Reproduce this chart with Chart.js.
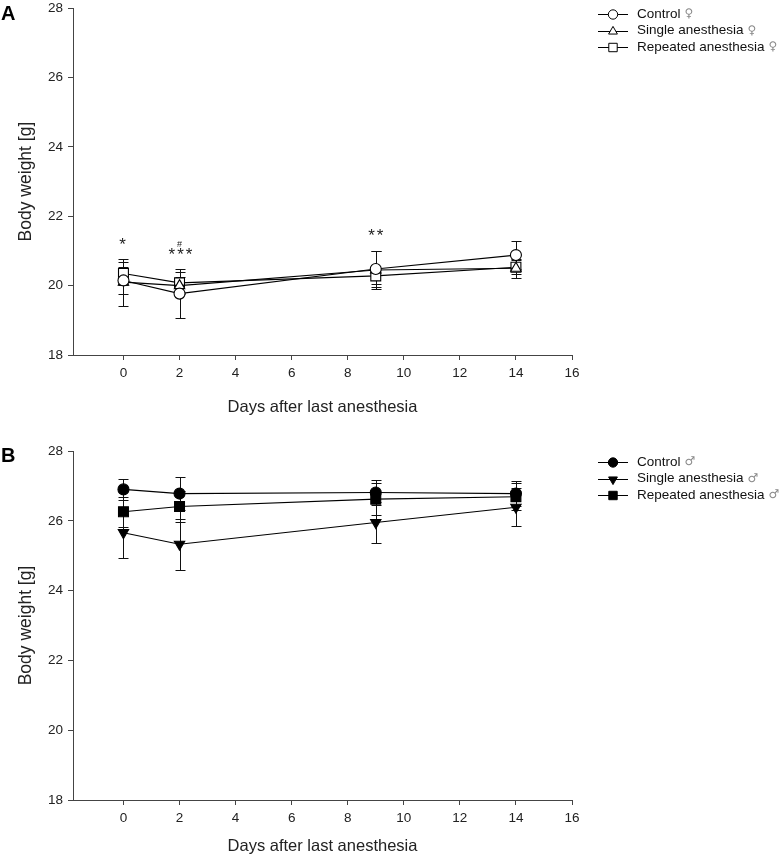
<!DOCTYPE html>
<html>
<head>
<meta charset="utf-8">
<script src="https://cdn.jsdelivr.net/npm/chart.js@4.4.1/dist/chart.umd.min.js"></script>
<style>
  body { margin: 0; background: #fff; }
  canvas { position: absolute; left: 0; }
  #chartA { top: 0; }
  #chartB { top: 429px; }
</style>
</head>
<body>
<canvas id="chartA" width="782" height="429"></canvas>
<canvas id="chartB" width="782" height="429"></canvas>
<script>
const days = [0, 2, 9, 14];
const xTicks = [0, 2, 4, 6, 8, 10, 12, 14, 16];
const yTicks = [18, 20, 22, 24, 26, 28];

// female (panel A)
const femaleControl = [20.15, 19.77, 20.48, 20.88];
const femaleControlSd = [0.40, 0.70, 0.52, 0.40];
const femaleSingle = [20.10, 20.00, 20.45, 20.50];
const femaleSingleSd = [0.68, 0.25, 0.55, 0.27];
const femaleRepeated = [20.35, 20.08, 20.28, 20.53];
const femaleRepeatedSd = [0.34, 0.30, 0.23, 0.20];

// male (panel B)
const maleControl = [26.90, 26.78, 26.81, 26.78];
const maleControlSd = [0.30, 0.48, 0.36, 0.35];
const maleSingle = [25.66, 25.33, 25.95, 26.39];
const maleSingleSd = [0.72, 0.73, 0.60, 0.54];
const maleRepeated = [26.26, 26.41, 26.62, 26.69];
const maleRepeatedSd = [0.43, 0.45, 0.45, 0.38];

// significance marks in panel A (value = centre of the glyph)
const markDays = [0, 2, 2, 9];
const markValues = [21.34, 21.21, 21.04, 21.60];
const markTexts = ["*", "#", "***", "**"];

const seriesNames = ["Control", "Single anesthesia", "Repeated anesthesia"];

const FONT = "'Liberation Sans', Arial, sans-serif";

const errorBars = {
  id: "errorBars",
  beforeDatasetsDraw(chart) {
    const { ctx, scales: { x, y } } = chart;
    ctx.save();
    ctx.strokeStyle = "#111";
    ctx.lineWidth = 1;
    chart.data.datasets.forEach(ds => {
      ds.data.forEach((p, i) => {
        const px = Math.round(x.getPixelForValue(p.x)) + 0.5;
        const top = Math.round(y.getPixelForValue(p.y + ds.sd[i])) + 0.5;
        const bot = Math.round(y.getPixelForValue(p.y - ds.sd[i])) + 0.5;
        ctx.beginPath();
        ctx.moveTo(px, top); ctx.lineTo(px, bot);
        ctx.moveTo(px - 5, top); ctx.lineTo(px + 5, top);
        ctx.moveTo(px - 5, bot); ctx.lineTo(px + 5, bot);
        ctx.stroke();
      });
    });
    ctx.restore();
  }
};

const extras = {
  id: "extras",
  afterDraw(chart, args, opts) {
    const { ctx, scales: { x, y } } = chart;
    ctx.save();

    // panel letter
    ctx.fillStyle = "#000";
    ctx.font = "bold 20px " + FONT;
    ctx.textBaseline = "alphabetic";
    ctx.textAlign = "left";
    ctx.fillText(opts.letter, 1, opts.letterY);

    // significance marks
    (opts.marks || []).forEach(m => {
      const small = m.text === "#";
      const size = small ? 9 : 17;
      ctx.font = size + "px " + FONT;
      ctx.letterSpacing = small ? "0px" : "2px";
      ctx.textAlign = "center";
      ctx.fillStyle = "#222";
      const shift = small ? 0 : (m.text.length - 1) * 1;
      ctx.fillText(m.text, x.getPixelForValue(m.day) + shift,
        y.getPixelForValue(m.value) + size * (small ? 0.35 : 0.62));
    });
    ctx.letterSpacing = "0px";

    // legend
    chart.data.datasets.forEach((ds, i) => {
      const ly = opts.legendTop + i * 16.5;
      ctx.strokeStyle = "#000";
      ctx.lineWidth = 1;
      ctx.beginPath();
      ctx.moveTo(598, Math.round(ly) + 0.5);
      ctx.lineTo(628, Math.round(ly) + 0.5);
      ctx.stroke();
      ctx.fillStyle = ds.pointBackgroundColor;
      Chart.helpers.drawPoint(ctx, {
        pointStyle: ds.pointStyle,
        radius: ds.pointRadius * 0.85,
        rotation: ds.pointRotation || 0,
        borderWidth: 1
      }, 613, Math.round(ly) + 0.5);

      ctx.fillStyle = "#111";
      ctx.font = "13.5px " + FONT;
      ctx.textAlign = "left";
      ctx.textBaseline = "middle";
      ctx.fillText(ds.label, 637, ly);
      const w = ctx.measureText(ds.label).width;
      ctx.fillStyle = "#8a8a8a";
      ctx.font = "12px 'DejaVu Sans', sans-serif";
      ctx.fillText(opts.symbol, 637 + w + 4, ly);
      ctx.textBaseline = "alphabetic";
    });
    ctx.restore();
  }
};

function makeSeries(means, sds, label, style, radius, fill, rotation) {
  return {
    label: label,
    data: days.map((d, i) => ({ x: d, y: means[i] })),
    sd: sds,
    borderColor: "#000",
    borderWidth: 1.1,
    pointStyle: style,
    pointRadius: radius,
    pointRotation: rotation || 0,
    pointBackgroundColor: fill,
    pointBorderColor: "#000",
    pointBorderWidth: 1.1,
    pointHoverRadius: radius,
    tension: 0,
    clip: false
  };
}

function makePanel(canvas, datasets, cfg) {
  return new Chart(canvas, {
    type: "line",
    data: { datasets: datasets },
    options: {
      responsive: false,
      animation: false,
      events: [],
      layout: { padding: { left: 0, right: 210, top: cfg.padTop, bottom: 0 } },
      plugins: {
        legend: { display: false },
        tooltip: { enabled: false },
        extras: cfg.extras
      },
      scales: {
        x: {
          type: "linear",
          min: -1.8,
          max: 16,
          afterBuildTicks: s => { s.ticks = xTicks.map(v => ({ value: v })); },
          afterFit: s => { s.height = cfg.xHeight; s.paddingLeft = 0; s.paddingRight = 0; },
          grid: { drawOnChartArea: false, drawTicks: true, tickLength: 5, tickColor: "#444" },
          border: { display: true, color: "#444", width: 1 },
          ticks: { color: "#222", padding: 5, font: { family: FONT, size: 13.5 } },
          title: {
            display: true,
            text: "Days after last anesthesia",
            color: "#222",
            font: { family: FONT, size: 16.5, lineHeight: 1.2 },
            padding: { top: 0, bottom: cfg.xTitlePad }
          }
        },
        y: {
          min: 18,
          max: 28,
          afterBuildTicks: s => { s.ticks = yTicks.map(v => ({ value: v })); },
          afterFit: s => { s.width = 73; s.paddingTop = 0; s.paddingBottom = 0; },
          grid: { drawOnChartArea: false, drawTicks: true, tickLength: 5, tickColor: "#444" },
          border: { display: true, color: "#444", width: 1 },
          ticks: { color: "#222", padding: 5, font: { family: FONT, size: 13.5 } },
          title: {
            display: true,
            text: "Body weight [g]",
            color: "#222",
            font: { family: FONT, size: 17.5, lineHeight: 1.2 },
            padding: { top: 15.5, bottom: 0 }
          }
        }
      }
    },
    plugins: [errorBars, extras]
  });
}

makePanel(chartA, [
  makeSeries(femaleControl, femaleControlSd, seriesNames[0], "circle", 5.5, "#fff"),
  makeSeries(femaleSingle, femaleSingleSd, seriesNames[1], "triangle", 6, "#fff"),
  makeSeries(femaleRepeated, femaleRepeatedSd, seriesNames[2], "rect", 7, "#fff")
], {
  padTop: 6,
  xHeight: 74,
  xTitlePad: 12.1,
  extras: {
    letter: "A",
    letterY: 20,
    symbol: "\u2640",
    legendTop: 14,
    marks: markDays.map((d, i) => ({ day: d, value: markValues[i], text: markTexts[i] }))
  }
});

makePanel(chartB, [
  makeSeries(maleControl, maleControlSd, seriesNames[0], "circle", 5.5, "#000"),
  makeSeries(maleSingle, maleSingleSd, seriesNames[1], "triangle", 6, "#000", 180),
  makeSeries(maleRepeated, maleRepeatedSd, seriesNames[2], "rect", 7, "#000")
], {
  padTop: 22,
  xHeight: 58,
  xTitlePad: 2.1,
  extras: {
    letter: "B",
    letterY: 33,
    symbol: "\u2642",
    legendTop: 33,
    marks: []
  }
});
</script>
</body>
</html>
